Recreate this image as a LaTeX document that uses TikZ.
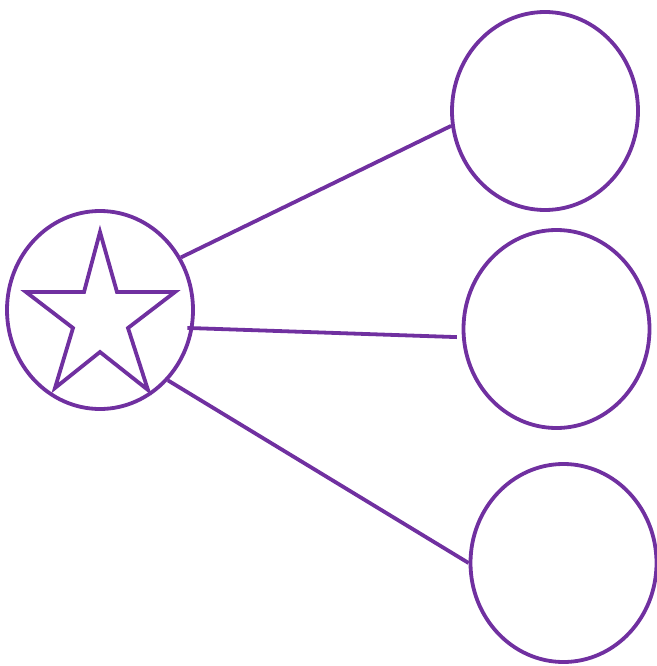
\documentclass[tikz,border=0pt]{standalone}
\usetikzlibrary{shapes.geometric}
\definecolor{purp}{HTML}{7030A0}
\begin{document}
\begin{tikzpicture}[x=1pt,y=-1pt,line width=3.8pt]
\tikzset{blob/.style={draw=purp, ellipse, minimum width=186pt, minimum height=198pt, inner sep=0pt}}
\useasboundingbox (0,0) rectangle (656,666);
\node[blob] (hub) at (100,310) {};
\node[blob] (top) at (545,111) {};
\node[blob] (mid) at (556.5,329) {};
\node[blob] (bot) at (563.5,563) {};
\draw[purp] (hub.33) -- (top.189);
\draw[purp,shorten <=-6pt,shorten >=5pt] (hub.-11) -- (mid.185);
\draw[purp] (hub.-46) -- (bot.180);
\draw[purp,line join=miter] (100,232) -- (117,292) -- (175,292) -- (128,328) -- (148,390) -- (100,352) -- (55,388) -- (73,328) -- (26,292) -- (84,292) -- cycle;
\end{tikzpicture}
\end{document}
